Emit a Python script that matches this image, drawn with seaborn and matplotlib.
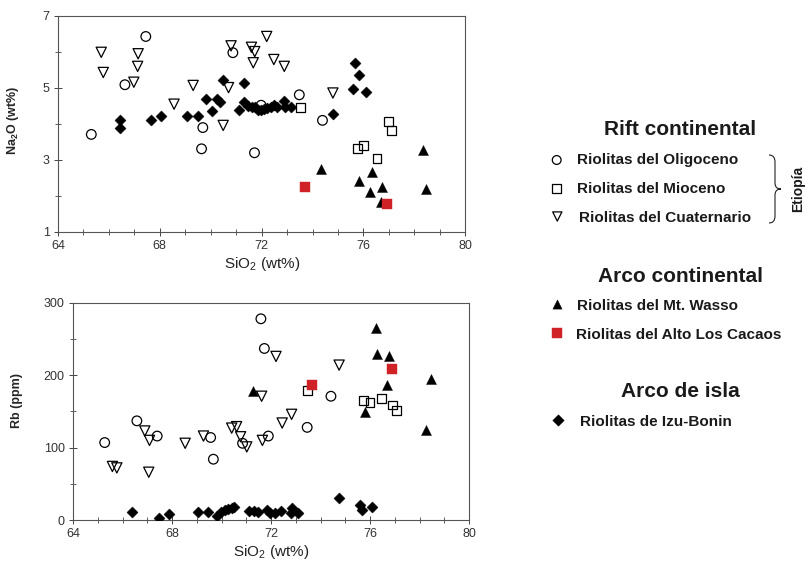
import numpy as np
import pandas as pd
import seaborn as sns
import matplotlib.pyplot as plt
from matplotlib.path import Path
from matplotlib.patches import PathPatch
from matplotlib.ticker import MultipleLocator, FixedLocator

# --- datos: SiO2 vs Na2O (panel superior) ---
oli_si_a = [65.31, 66.63, 67.45, 69.69, 69.64, 70.87, 71.72, 71.98, 73.48, 74.39]
oli_na = [3.71, 5.09, 6.43, 3.90, 3.31, 5.98, 3.20, 4.52, 4.81, 4.10]

mio_si_a = [73.53, 75.77, 76.01, 76.53, 76.99, 77.09]
mio_na = [4.45, 3.31, 3.41, 3.03, 4.06, 3.82]

cua_si_a = [65.70, 65.78, 67.15, 67.13, 66.98, 68.56, 69.31, 70.49, 70.70, 70.80,
            71.60, 71.73, 71.67, 72.20, 72.48, 72.89, 74.80]
cua_na = [5.99, 5.43, 5.95, 5.60, 5.16, 4.55, 5.07, 3.96, 5.01, 6.17,
          6.13, 6.01, 5.70, 6.43, 5.79, 5.60, 4.86]

was_si_a = [74.34, 75.82, 76.32, 76.25, 76.74, 76.70, 78.35, 78.47]
was_na = [2.74, 2.42, 2.67, 2.10, 2.25, 1.82, 3.27, 2.20]

cac_si_a = [73.69, 76.91]
cac_na = [2.26, 1.77]

izu_si_a = [66.44, 66.44, 67.64, 68.04, 69.05, 69.49, 69.83, 70.04, 70.24, 70.37,
            70.49, 71.13, 71.31, 71.29, 71.48, 71.62, 71.74, 71.85, 71.97, 72.10,
            72.23, 72.35, 72.47, 72.60, 72.86, 72.90, 73.16, 74.80, 75.68, 75.81,
            75.59, 76.10]
izu_na = [4.11, 3.90, 4.10, 4.23, 4.23, 4.23, 4.69, 4.35, 4.69, 4.60,
          5.22, 4.38, 5.15, 4.62, 4.50, 4.46, 4.46, 4.40, 4.39, 4.42,
          4.44, 4.48, 4.53, 4.47, 4.65, 4.46, 4.48, 4.27, 5.70, 5.37,
          4.96, 4.90]

# --- datos: SiO2 vs Rb (panel inferior) ---
oli_si_b = [65.28, 66.58, 67.40, 69.56, 69.67, 70.85, 71.59, 71.73, 71.89, 73.46, 74.42]
oli_rb = [107, 137, 116, 114, 84, 106, 278, 237, 116, 128, 171]

mio_si_b = [73.48, 75.72, 76.00, 76.46, 76.92, 77.06]
mio_rb = [179, 165, 162, 168, 159, 151]

cua_si_b = [65.59, 65.77, 66.90, 67.09, 67.06, 68.53, 69.27, 70.41, 70.61, 70.77,
            71.02, 71.65, 71.62, 72.20, 72.45, 72.83, 74.75]
cua_rb = [74, 72, 123, 110, 66, 106, 116, 127, 129, 115,
          101, 110, 171, 226, 134, 146, 214]

was_si_b = [71.26, 76.23, 76.29, 76.77, 76.69, 75.79, 78.48, 78.25]
was_rb = [178, 265, 230, 227, 186, 149, 195, 125]

cac_si_b = [73.66, 76.89]
cac_rb = [187, 209]

izu_si_b = [66.39, 67.48, 67.88, 69.04, 69.46, 69.81, 69.97, 70.12, 70.28, 70.41,
            70.49, 71.12, 71.31, 71.49, 71.82, 71.96, 72.17, 72.41, 72.85, 72.80,
            73.10, 74.75, 75.61, 75.68, 76.06]
izu_rb = [11, 3, 8, 11, 11, 6, 11, 14, 15, 17,
          18, 12, 12, 11, 14, 9, 9, 13, 16, 9,
          9, 31, 21, 14, 18]

sns.set_style('ticks')
plt.rcParams['font.family'] = ['Liberation Sans', 'DejaVu Sans']
plt.rcParams['mathtext.fontset'] = 'custom'
plt.rcParams['mathtext.rm'] = 'Liberation Sans'
plt.rcParams['mathtext.bf'] = 'Liberation Sans:bold'

RED = '#d02127'
# (marca, relleno, borde, tamaño)
estilos = {
    'oli': ('o', 'none', 'k', 48),
    'mio': ('s', 'none', 'k', 40),
    'cua': ('v', 'none', 'k', 54),
    'was': ('^', 'k', 'k', 52),
    'cac': ('s', RED, RED, 62),
    'izu': ('D', 'k', 'k', 32),
}

fig = plt.figure(figsize=(8.05, 5.64), dpi=100)
ax1 = fig.add_axes([0.072, 0.5887, 0.506, 0.383])
ax2 = fig.add_axes([0.0907, 0.078, 0.492, 0.385])

top = {'oli': (oli_si_a, oli_na), 'mio': (mio_si_a, mio_na), 'cua': (cua_si_a, cua_na),
       'izu': (izu_si_a, izu_na), 'was': (was_si_a, was_na), 'cac': (cac_si_a, cac_na)}
bot = {'oli': (oli_si_b, oli_rb), 'mio': (mio_si_b, mio_rb), 'cua': (cua_si_b, cua_rb),
       'izu': (izu_si_b, izu_rb), 'was': (was_si_b, was_rb), 'cac': (cac_si_b, cac_rb)}

for ax, datos in [(ax1, top), (ax2, bot)]:
    for k, (xs, ys) in datos.items():
        m, fc, ec, s = estilos[k]
        sns.scatterplot(x=xs, y=ys, marker=m, s=s, facecolor=fc, edgecolor=ec,
                        linewidth=0.9 if fc == 'none' else 0.3, ax=ax, zorder=3)

for ax in (ax1, ax2):
    ax.set_xlim(64, 80)
    ax.xaxis.set_major_locator(MultipleLocator(4))
    ax.xaxis.set_minor_locator(MultipleLocator(1))
    ax.tick_params(which='major', direction='inout', length=6, width=0.7,
                   labelsize=9, labelcolor='#333333', color='#444444', pad=3)
    ax.tick_params(which='minor', direction='inout', length=4, width=0.6, color='#444444')
    for sp in ax.spines.values():
        sp.set_linewidth(0.8)
        sp.set_color('#555555')
    ax.set_xlabel('SiO$_2$ (wt%)', fontsize=11, labelpad=2, color='#222222')

ax1.set_ylim(1, 7)
ax1.yaxis.set_major_locator(FixedLocator([1, 3, 5, 7]))
ax1.yaxis.set_minor_locator(FixedLocator([2, 4, 6]))
ax1.set_ylabel('Na$_\\mathbf{2}$O (wt%)', fontsize=9, fontweight='bold')
ax1.yaxis.set_label_coords(-0.091, 0.515)

ax2.set_ylim(0, 300)
ax2.yaxis.set_major_locator(MultipleLocator(100))
ax2.yaxis.set_minor_locator(MultipleLocator(50))
ax2.set_ylabel('Rb (ppm)', fontsize=9, fontweight='bold')
ax2.yaxis.set_label_coords(-0.126, 0.55)

# --- leyenda en coordenadas de píxel ---
lg = fig.add_axes([0, 0, 1, 1], zorder=-1)
lg.set_xlim(0, 805)
lg.set_ylim(564, 0)
lg.axis('off')

cabeceras = [('Rift continental', 680, 135), ('Arco continental', 680, 282),
             ('Arco de isla', 680, 397)]
for txt, x, y in cabeceras:
    lg.text(x, y, txt, ha='center', va='baseline', fontsize=15, fontweight='bold',
            color='#1a1a1a')

items = [('oli', 'Riolitas del Oligoceno', 556.7, 160, 576.7, 164.3, 40),
         ('mio', 'Riolitas del Mioceno', 556.7, 188.3, 577.3, 192.7, 40),
         ('cua', 'Riolitas del Cuaternario', 557.3, 216.5, 579.3, 221.7, 44),
         ('was', 'Riolitas del Mt. Wasso', 557.3, 304, 576.7, 310, 44),
         ('cac', 'Riolitas del Alto Los Cacaos', 556.7, 333.3, 576, 339.3, 56),
         ('izu', 'Riolitas de Izu-Bonin', 558.3, 420, 580, 426, 34)]
for k, txt, mx, my, tx, ty, s in items:
    m, fc, ec, _ = estilos[k]
    lg.scatter([mx], [my], marker=m, s=s, facecolor=fc, edgecolor=ec,
               linewidth=0.9 if fc == 'none' else 0.3)
    lg.text(tx, ty, txt, ha='left', va='baseline', fontsize=11, fontweight='bold',
            color='#1a1a1a')

# llave "Etiopía"
verts = [(769, 155), (775, 155), (775, 162), (775, 183), (775, 189), (781, 189),
         (775, 189), (775, 195), (775, 216), (775, 223), (769, 223)]
codes = [Path.MOVETO, Path.CURVE3, Path.CURVE3, Path.LINETO, Path.CURVE3, Path.CURVE3,
         Path.CURVE3, Path.CURVE3, Path.LINETO, Path.CURVE3, Path.CURVE3]
lg.add_patch(PathPatch(Path(verts, codes), fill=False, lw=0.8, color='#222222'))
lg.text(798, 189, 'Etiopía', rotation=90, ha='center', va='center', fontsize=10,
        fontweight='bold', color='#1a1a1a')

fig.savefig('out.png', dpi=100)
